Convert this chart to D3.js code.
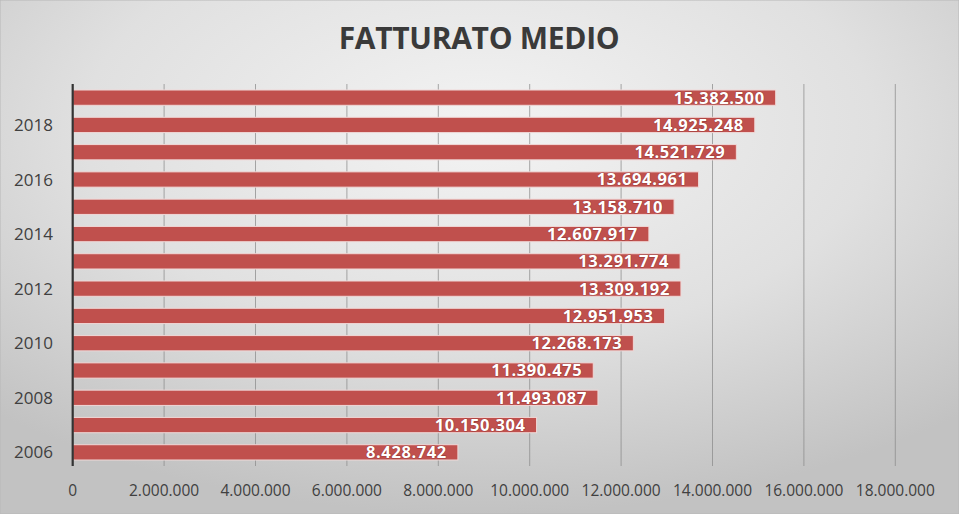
<!DOCTYPE html>
<html><head><meta charset="utf-8">
<script src="https://cdn.jsdelivr.net/npm/d3@7/dist/d3.min.js"></script>
<style>html,body{margin:0;padding:0;background:#d8d8d8;}svg{display:block;}</style>
</head><body>
<svg id="chart" width="959" height="514"></svg>
<script>
const years = [2006,2007,2008,2009,2010,2011,2012,2013,2014,2015,2016,2017,2018,2019];
const values = [8428742,10150304,11493087,11390475,12268173,12951953,13309192,13291774,12607917,13158710,13694961,14521729,14925248,15382500];
const xTicks = [0,2000000,4000000,6000000,8000000,10000000,12000000,14000000,16000000,18000000];
const yLabelYears = [2006,2008,2010,2012,2014,2016,2018];
const title = "FATTURATO MEDIO";

const W = 959, H = 514;
const m = {left:72.7, right:W-895.3, top:84, bottom:H-466};
const svg = d3.select("#chart");
const defs = svg.append("defs");
const rg = defs.append("radialGradient").attr("id","bg")
  .attr("cx","50%").attr("cy","25%").attr("r","75%");
rg.append("stop").attr("offset","0%").attr("stop-color","#f3f3f3");
rg.append("stop").attr("offset","55%").attr("stop-color","#e0e0e0");
rg.append("stop").attr("offset","100%").attr("stop-color","#c2c2c2");
svg.append("rect").attr("width",W).attr("height",H).attr("fill","url(#bg)")
  .attr("stroke","#b8b8b8").attr("stroke-width",1);

const locale = d3.formatLocale({decimal:",",thousands:".",grouping:[3],currency:["€",""]});
const fmt = locale.format(",d");

const x = d3.scaleLinear().domain([0,18000000]).range([m.left, W-m.right]);
const y = d3.scaleBand().domain(years.slice().reverse()).range([m.top, H-m.bottom]).paddingInner(0.44).paddingOuter(0.22);

// gridlines
svg.append("g").selectAll("line").data(xTicks.slice(1)).join("line")
  .attr("x1",d=>x(d)).attr("x2",d=>x(d))
  .attr("y1",m.top).attr("y2",H-m.bottom)
  .attr("stroke","#8c8c8c").attr("stroke-width",1).attr("opacity",0.75);

// bars
const data = years.map((yr,i)=>({year:yr,value:values[i]}));
svg.append("g").selectAll("rect").data(data).join("rect")
  .attr("x",x(0)).attr("y",d=>y(d.year))
  .attr("width",d=>x(d.value)-x(0)).attr("height",y.bandwidth())
  .attr("fill","#c0504d").attr("stroke","#f0d8d7").attr("stroke-width",1);

// data labels
svg.append("g").selectAll("text").data(data).join("text")
  .attr("x",d=>x(d.value)-11).attr("y",d=>y(d.year)+y.bandwidth()/2)
  .attr("dy","0.36em").attr("text-anchor","end")
  .attr("font-family","Open Sans, sans-serif").attr("font-weight","bold")
  .attr("font-size",16.5).attr("letter-spacing","0.6px")
  .attr("fill","#ffffff")
  .style("paint-order","stroke").attr("stroke","rgba(90,20,20,0.35)").attr("stroke-width",1.2)
  .text(d=>fmt(d.value));

// y axis line
svg.append("line").attr("x1",x(0)).attr("x2",x(0)).attr("y1",m.top).attr("y2",H-m.bottom)
  .attr("stroke","#333").attr("stroke-width",2.2);

// y labels
svg.append("g").selectAll("text").data(yLabelYears).join("text")
  .attr("x",53).attr("y",d=>y(d)+y.bandwidth()/2).attr("dy","0.36em")
  .attr("text-anchor","end").attr("font-family","Open Sans, sans-serif")
  .attr("font-size",17).attr("fill","#404040").text(d=>d);

// x tick labels
svg.append("g").selectAll("text").data(xTicks).join("text")
  .attr("x",d=>x(d)).attr("y",490).attr("dy","0.36em")
  .attr("text-anchor","middle").attr("font-family","Open Sans, sans-serif")
  .attr("font-size",15.5).attr("fill","#404040").text(d=>fmt(d));

// title
svg.append("text").attr("x",479).attr("y",38.5).attr("dy","0.36em")
  .attr("text-anchor","middle").attr("font-family","Open Sans, sans-serif")
  .attr("font-weight","bold").attr("font-size",30).attr("fill","#3a3a3a")
  .attr("letter-spacing","-0.3px")
  .text(title);
</script>
</body></html>
